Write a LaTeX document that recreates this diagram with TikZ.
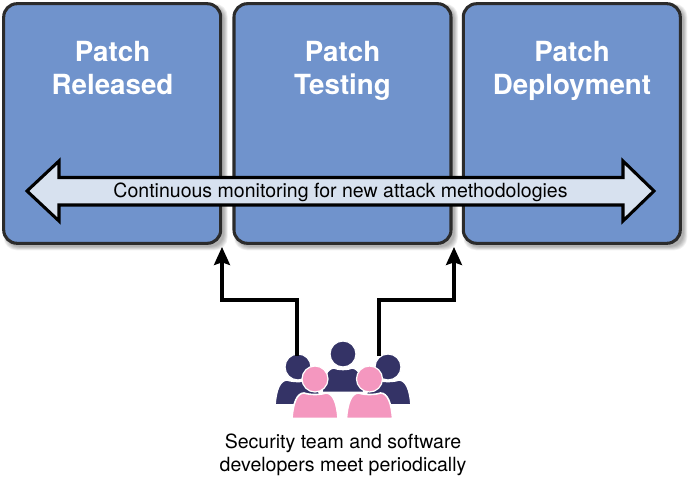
\documentclass[tikz,border=0pt]{standalone}
\usepackage{fontspec}
\setmainfont{TeX Gyre Heros}
\usetikzlibrary{arrows.meta}
\definecolor{boxblue}{HTML}{7093CC}
\definecolor{boxline}{HTML}{2B2B2B}
\definecolor{bandfill}{HTML}{D7E1EF}
\definecolor{navy}{HTML}{343366}
\definecolor{pinkp}{HTML}{F497BF}
\newcommand{\softshadow}[4]{%
  \foreach \g in {0,1,2,3,4,5}{
    \fill[black,opacity=0.06,rounded corners=13*0.75pt]
      ({#1+3-\g*0.6},{#2+3-\g*0.6}) rectangle ({#3+3.5+\g*0.7},{#4+3.5+\g*0.7});
  }}
\newcommand{\personshape}[5]{%
  \fill[#5,draw=white,line width=1.2pt] ({#1-\bw},#4)
    .. controls ({#1-\bw+1},{#3+10}) and ({#1-\bw+5},#3) .. ({#1-\bw+12},#3)
    .. controls ({#1-5},{#3+2}) and ({#1+5},{#3+2}) .. ({#1+\bw-12},#3)
    .. controls ({#1+\bw-5},#3) and ({#1+\bw-1},{#3+10}) .. ({#1+\bw},#4) -- cycle;
  \fill[#5,draw=white,line width=0.9pt] (#1,#2) circle (13);
}
\tikzset{
  x=0.75pt,y=-0.75pt,
  stagebox/.style={draw=boxline,fill=boxblue,line width=2.3pt,rounded corners=10pt,outer sep=0pt,
    minimum width=162.75pt,minimum height=179.7pt,inner sep=0pt,anchor=north west},
  stagetitle/.style={text=white,font=\fontsize{20.8pt}{24.7pt}\selectfont\bfseries,align=center,anchor=base},
  band/.style={draw=black,fill=bandfill,line width=2.3pt,miter limit=10,line join=miter},
  bandtext/.style={font=\fontsize{14.65pt}{16pt}\selectfont,text=black,inner sep=0pt},
  feedback/.style={draw=black,line width=2.3pt,-{Stealth[length=13.5pt,width=12pt,inset=2pt]}},
  caption/.style={font=\fontsize{14.65pt}{17.3pt}\selectfont,align=center,text=black,inner sep=0pt},
}
\begin{document}
\begin{tikzpicture}
\useasboundingbox (0,0) rectangle (690,476);
\softshadow{3.7}{3.7}{220.7}{243.3}
\softshadow{234}{3.7}{451}{243.3}
\softshadow{463.3}{3.7}{680.3}{243.3}
\node[stagebox] (released) at (3.7,3.7) {};
\node[stagebox] (testing) at (234,3.7) {};
\node[stagebox] (deployment) at (463.3,3.7) {};
\node[stagetitle] (t1) at (112.5,94) {Patch\\Released};
\node[stagetitle] (t2) at (342.5,94) {Patch\\Testing};
\node[stagetitle] (t3) at (572,94) {Patch\\Deployment};
\path[band] (27,191) -- (59,161) -- (59,177.5) -- (623,177.5) -- (623,161) -- (654,191)
  -- (623,221) -- (623,205) -- (59,205) -- (59,221) -- cycle;
\node[bandtext] (bandlabel) at (340.5,192.5) {Continuous monitoring for new attack methodologies};
\def\bw{21}
\personshape{343}{354}{368}{392.5}{navy}
\def\bw{23}
\personshape{298}{367}{380}{405}{navy}
\personshape{388}{367}{380}{405}{navy}
\coordinate (leftperson) at (297,356);
\coordinate (rightperson) at (379,356);
\coordinate (up1) at (222,247);
\coordinate (up2) at (454,247);
\draw[feedback] (leftperson) |- (259.5,300) -| (up1);
\draw[feedback] (rightperson) |- (416.5,300) -| (up2);
\def\bw{23}
\personshape{315}{379}{393}{418.5}{pinkp}
\personshape{369.5}{379}{393}{418.5}{pinkp}
\node[caption] (cap) at (343,454.5) {Security team and software\\developers meet periodically};
\end{tikzpicture}
\end{document}
